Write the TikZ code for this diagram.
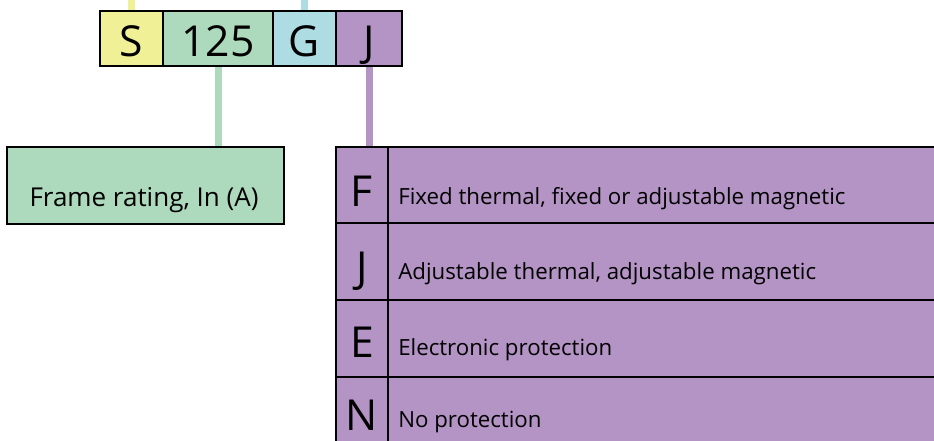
\documentclass[tikz,border=0pt]{standalone}
\usepackage{fontspec}
\setmainfont{Open Sans}
\usetikzlibrary{fit,backgrounds}
\definecolor{cyel}{HTML}{F0F096}
\definecolor{cgrn}{HTML}{ADDABC}
\definecolor{ccyn}{HTML}{AEDCE3}
\definecolor{cpur}{HTML}{B493C5}
\begin{document}
\begin{tikzpicture}[x=0.75pt,y=-0.75pt,
  box/.style={draw=black,line width=1.9pt,inner sep=0pt,outer sep=0pt},
  big/.style={font=\fontsize{32}{32}\selectfont,anchor=base,inner sep=0pt},
  desc/.style={font=\fontsize{16.7}{16.7}\selectfont,anchor=base west,inner sep=0pt},
  conn/.style={line width=5.25pt}]
\useasboundingbox (0,0) rectangle (934,441);
\clip (0,0) rectangle (934,441);
\coordinate (sTop) at (131.5,0);
\coordinate (gTop) at (304.5,0);
\coordinate (rX) at (218,0);
\coordinate (jX) at (369,0);
% top code boxes
\node[box,fill=cyel,fit={(100,11)(163,66)}] (s) {};
\node[box,fill=cgrn,fit={(163,11)(273,66)}] (r) {};
\node[box,fill=ccyn,fit={(273,11)(336,66)}] (g) {};
\node[box,fill=cpur,fit={(336,11)(402,66)}] (j) {};
\node[big] (sT) at (131.5,57) {S};
\node[big] (rT) at (218,57) {125};
\node[big] (gT) at (304.5,57) {G};
\node[big] (jT) at (369,57) {J};
% frame rating box
\node[box,fill=cgrn,fit={(7,147)(284,224)}] (frame) {};
\node[font=\fontsize{19.5}{19.5}\selectfont,anchor=base,inner sep=0pt] (frameT) at (144,207) {Frame rating, In (A)};
% trip unit table
\node[box,fill=cpur,fit={(336,147)(388,223)}] (l1) {};
\node[box,fill=cpur,fit={(388,147)(960,223)}] (d1) {};
\node[box,fill=cpur,fit={(336,223)(388,300)}] (l2) {};
\node[box,fill=cpur,fit={(388,223)(960,300)}] (d2) {};
\node[box,fill=cpur,fit={(336,300)(388,377)}] (l3) {};
\node[box,fill=cpur,fit={(388,300)(960,377)}] (d3) {};
\node[box,fill=cpur,fit={(336,377)(388,460)}] (l4) {};
\node[box,fill=cpur,fit={(388,377)(960,460)}] (d4) {};
\node[big] (l1T) at (362,207) {F};
\node[big] (l2T) at (362,282) {J};
\node[big] (l3T) at (362,357) {E};
\node[big] (l4T) at (362,430) {N};
\node[desc] (d1T) at (398,205) {Fixed thermal, fixed or adjustable magnetic};
\node[desc] (d2T) at (398,280) {Adjustable thermal, adjustable magnetic};
\node[desc] (d3T) at (398,355) {Electronic protection};
\node[desc] (d4T) at (398,427) {No protection};
% connectors
\begin{scope}[on background layer]
\draw[conn,cyel] (sTop) -- (sTop |- s.north);
\draw[conn,ccyn] (gTop) -- (gTop |- g.north);
\draw[conn,cgrn] (rX |- r.south) -- (rX |- frame.north);
\draw[conn,cpur] (jX |- j.south) -- (jX |- l1.north);
\end{scope}
\end{tikzpicture}
\end{document}
